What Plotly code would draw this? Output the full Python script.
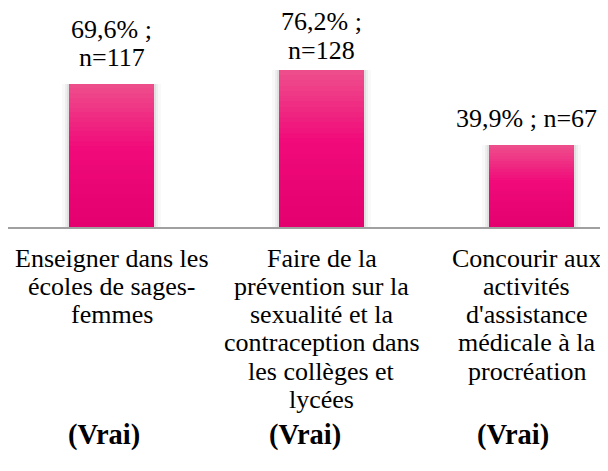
import plotly.graph_objects as go

# ---- data ----
categories = [
    "Enseigner dans les<br>écoles de sages-<br>femmes",
    "Faire de la<br>prévention sur la<br>sexualité et la<br>contraception dans<br>les collèges et<br>lycées",
    "Concourir aux<br>activités<br>d'assistance<br>médicale à la<br>procréation",
]
percent = [69.6, 76.2, 39.9]
counts = [117, 128, 67]
answer = ["(Vrai)", "(Vrai)", "(Vrai)"]

# ---- style ----
FONT = "Times New Roman, Liberation Serif, DejaVu Serif, serif"
FS = 26
FS_BOLD = 28.5
LINE = 28.3
label_two_lines = [True, True, False]
label_gap = [26, 20, 26.5]      # px from bar top to centre of last label line
label_xshift = [0, 0, -5]       # keep right-most texts inside the page
answer_shift = [-8, -17, -19]   # px horizontal offset of "(Vrai)" labels
BAR_W = 0.405
W, H = 592, 455

stops = [(0.0, (228, 0, 110)), (0.55, (240, 10, 122)), (1.0, (238, 80, 140))]


def grad(f):
    for (f0, c0), (f1, c1) in zip(stops[:-1], stops[1:]):
        if f0 <= f <= f1:
            t = (f - f0) / (f1 - f0)
            c = [round(a + (b - a) * t) for a, b in zip(c0, c1)]
            return "rgb(%d,%d,%d)" % tuple(c)
    return "rgb(%d,%d,%d)" % stops[-1][1]


fig = go.Figure()

# soft side shadow
for extra, alpha in [(14, 0.025), (8, 0.045), (4, 0.06)]:
    fig.add_trace(go.Bar(
        x=categories, y=percent, width=BAR_W + extra / 210.0,
        marker=dict(color="rgba(0,0,0,%g)" % alpha, line=dict(width=0)),
        hoverinfo="skip", showlegend=False))

# vertical gradient bars (overlapping, from full height down)
N = 30
for k in range(N):
    frac = (N - k) / N
    fig.add_trace(go.Bar(
        x=categories, y=[v * frac for v in percent], width=BAR_W,
        marker=dict(color=grad(frac - 0.5 / N), line=dict(width=0)),
        hoverinfo="skip", showlegend=False))

annotations = []
for i, cat in enumerate(categories):
    # value labels
    if label_two_lines[i]:
        lines = [f"{percent[i]:.1f}".replace(".", ",") + "% ;", f"n={counts[i]}"]
    else:
        lines = [f"{percent[i]:.1f}".replace(".", ",") + f"% ; n={counts[i]}"]
    nl = len(lines)
    for j, t in enumerate(lines):
        annotations.append(dict(
            x=cat, y=percent[i], xref="x", yref="y", text=t, showarrow=False,
            yanchor="middle", xanchor="center", xshift=label_xshift[i],
            yshift=label_gap[i] + (nl - 1 - j) * LINE,
            font=dict(family=FONT, size=FS, color="black")))
    # category labels
    for j, t in enumerate(cat.split("<br>")):
        annotations.append(dict(
            x=cat, y=0, xref="x", yref="y", text=t, showarrow=False,
            yanchor="middle", xanchor="center", xshift=label_xshift[i],
            yshift=-(31 + j * LINE),
            font=dict(family=FONT, size=FS, color="black")))
    # answer labels
    annotations.append(dict(
        x=cat, y=0, xref="x", yref="y", text="<b>" + answer[i] + "</b>",
        showarrow=False, yanchor="middle", xanchor="center",
        yshift=-208, xshift=answer_shift[i],
        font=dict(family=FONT, size=FS_BOLD, color="black")))

x0 = -0.5 + 1.5 / 210.0
fig.update_layout(
    width=W, height=H,
    margin=dict(l=0, r=0, t=13, b=H - 13 - 206),
    barmode="overlay",
    bargap=0,
    font=dict(family=FONT),
    plot_bgcolor="white", paper_bgcolor="white",
    showlegend=False,
    annotations=annotations,
    xaxis=dict(type="category", range=[x0, x0 + W / 210.0], showticklabels=False,
               showgrid=False, zeroline=False, showline=True,
               linecolor="#A0A0A0", linewidth=1.5, ticks=""),
    yaxis=dict(range=[0, 100], visible=False, showgrid=False, zeroline=False),
)

fig.write_html("out.html")
